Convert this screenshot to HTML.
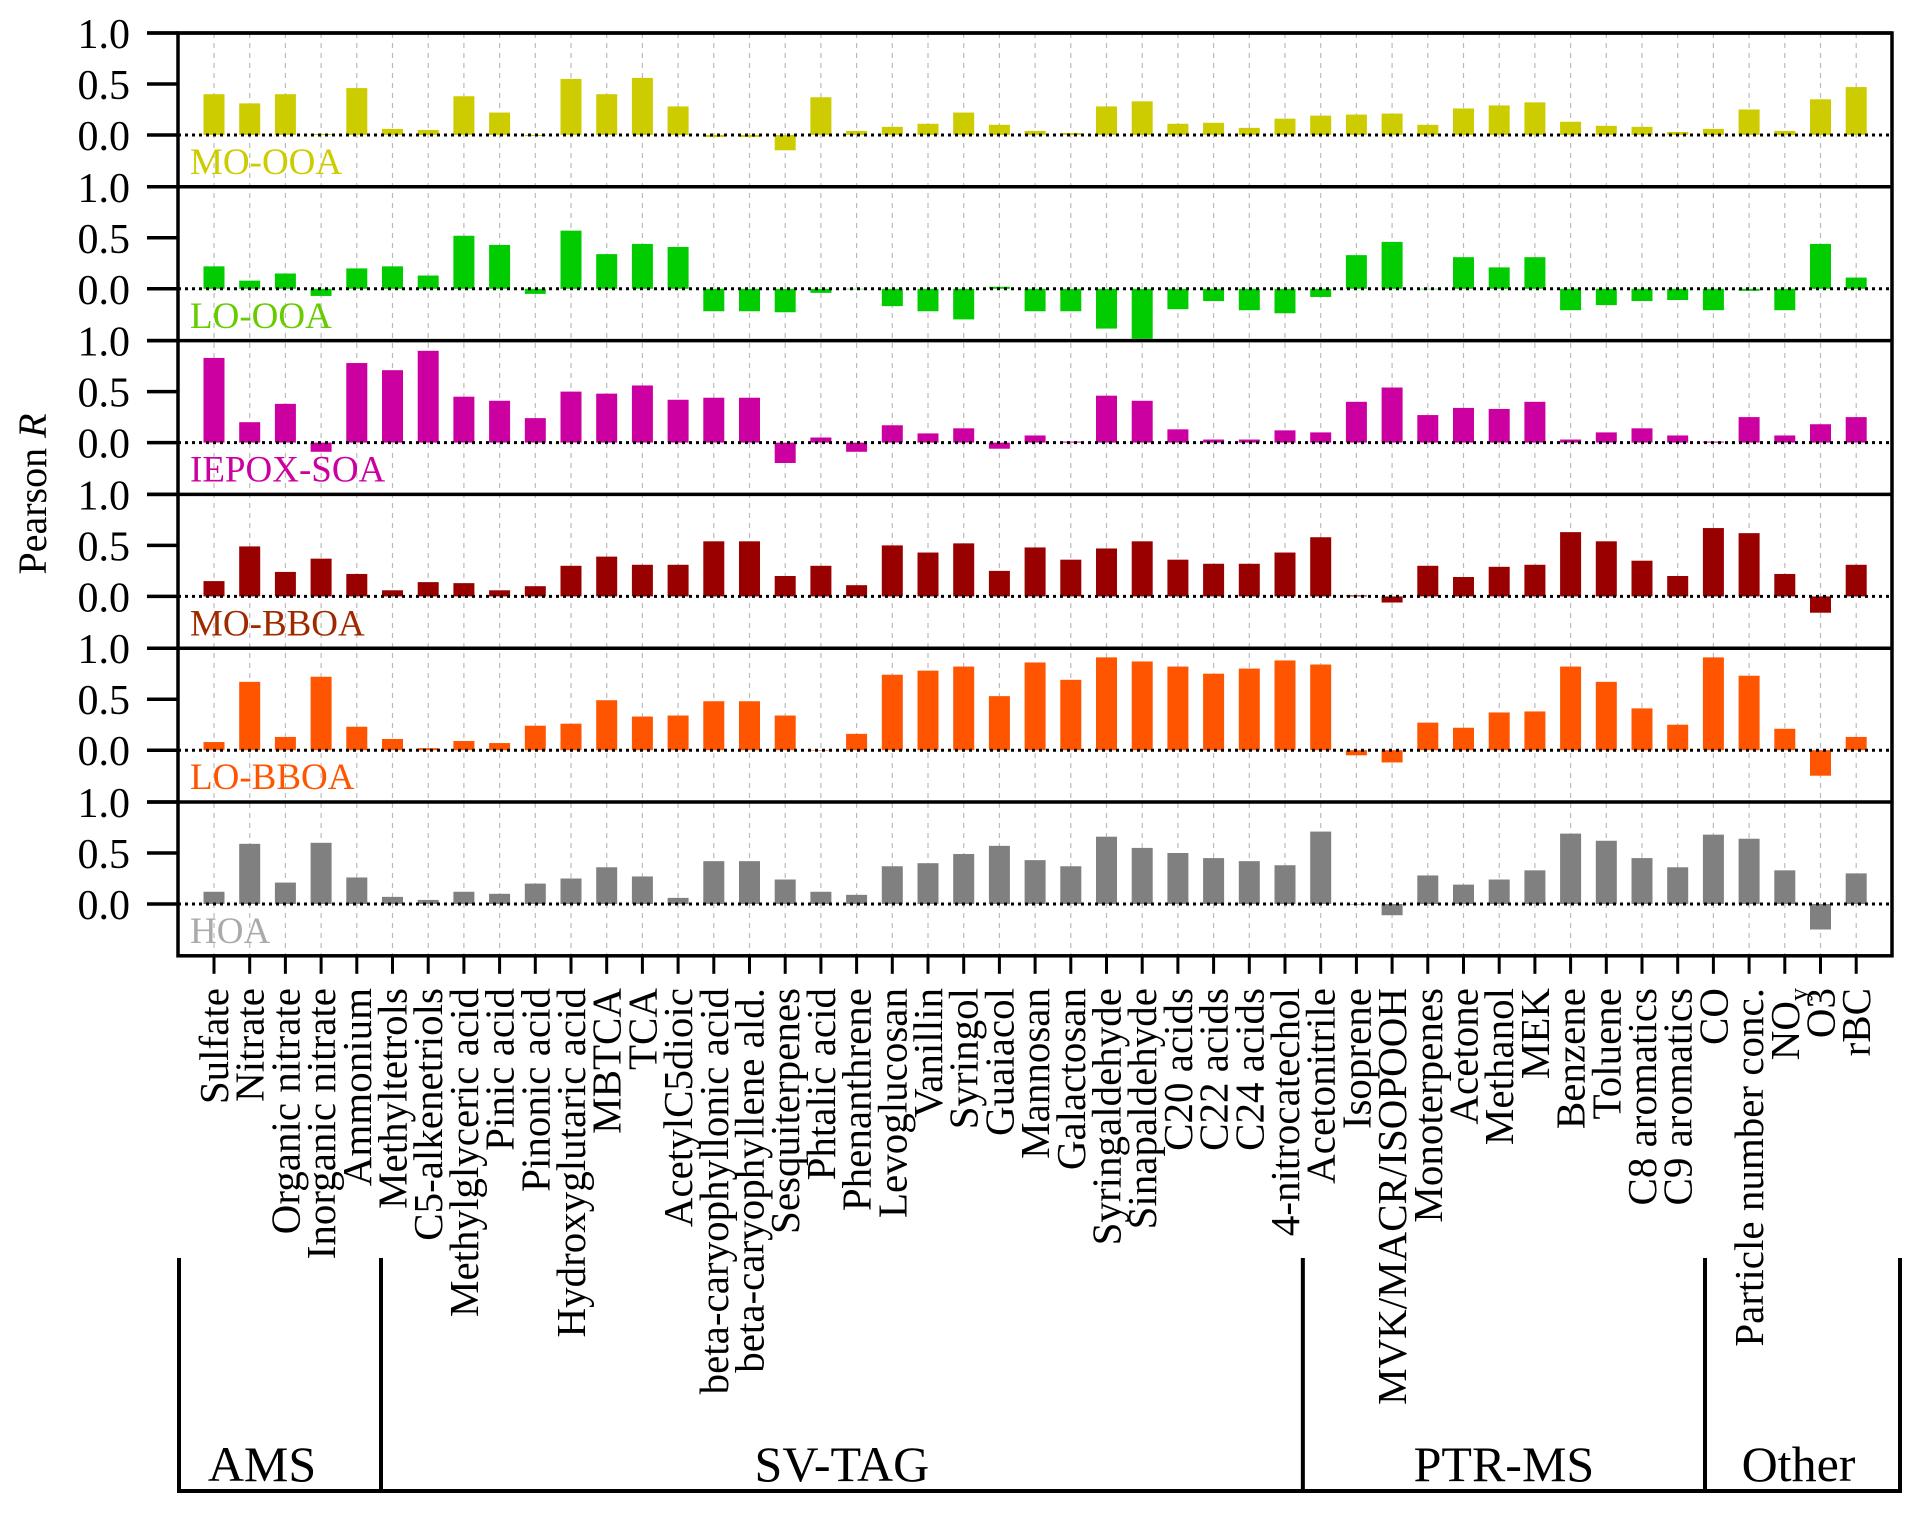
<!DOCTYPE html>
<html><head><meta charset="utf-8"><style>
html,body{margin:0;padding:0;background:#fff;}
svg{display:block;font-family:"Liberation Serif",serif;}
</style></head><body>
<svg id="chart" width="1917" height="1513" viewBox="0 0 1917 1513" xmlns="http://www.w3.org/2000/svg"></svg>
<script>
const categories = ["Sulfate","Nitrate","Organic nitrate","Inorganic nitrate","Ammonium","Methyltetrols","C5-alkenetriols","Methylglyceric acid","Pinic acid","Pinonic acid","Hydroxyglutaric acid","MBTCA","TCA","AcetylC5dioic","beta-caryophyllonic acid","beta-caryophyllene ald.","Sesquiterpenes","Phtalic acid","Phenanthrene","Levoglucosan","Vanillin","Syringol","Guaiacol","Mannosan","Galactosan","Syringaldehyde","Sinapaldehyde","C20 acids","C22 acids","C24 acids","4-nitrocatechol","Acetonitrile","Isoprene","MVK/MACR/ISOPOOH","Monoterpenes","Acetone","Methanol","MEK","Benzene","Toluene","C8 aromatics","C9 aromatics","CO","Particle number conc.","NOy","O3","rBC"];
const factorNames = ["MO-OOA","LO-OOA","IEPOX-SOA","MO-BBOA","LO-BBOA","HOA"];
const moOOA = [0.40,0.31,0.40,0.01,0.46,0.06,0.05,0.38,0.22,-0.01,0.55,0.40,0.56,0.28,-0.02,-0.02,-0.15,0.37,0.04,0.08,0.11,0.22,0.10,0.04,0.02,0.28,0.33,0.11,0.12,0.07,0.16,0.19,0.20,0.21,0.10,0.26,0.29,0.32,0.13,0.09,0.08,0.03,0.06,0.25,0.04,0.35,0.47];
const loOOA = [0.22,0.08,0.15,-0.07,0.20,0.22,0.13,0.52,0.43,-0.05,0.57,0.34,0.44,0.41,-0.22,-0.22,-0.23,-0.04,0.0,-0.17,-0.22,-0.30,0.02,-0.22,-0.22,-0.39,-0.49,-0.20,-0.12,-0.21,-0.24,-0.08,0.33,0.46,0.0,0.31,0.21,0.31,-0.21,-0.16,-0.12,-0.11,-0.21,-0.02,-0.21,0.44,0.11];
const iepoxSOA = [0.83,0.20,0.38,-0.09,0.78,0.71,0.90,0.45,0.41,0.24,0.50,0.48,0.56,0.42,0.44,0.44,-0.20,0.05,-0.09,0.17,0.09,0.14,-0.06,0.07,0.01,0.46,0.41,0.13,0.03,0.03,0.12,0.10,0.40,0.54,0.27,0.34,0.33,0.40,0.03,0.10,0.14,0.07,0.01,0.25,0.07,0.18,0.25];
const moBBOA = [0.15,0.49,0.24,0.37,0.22,0.06,0.14,0.13,0.06,0.10,0.30,0.39,0.31,0.31,0.54,0.54,0.20,0.30,0.11,0.50,0.43,0.52,0.25,0.48,0.36,0.47,0.54,0.36,0.32,0.32,0.43,0.58,0.01,-0.06,0.30,0.19,0.29,0.31,0.63,0.54,0.35,0.20,0.67,0.62,0.22,-0.16,0.31];
const loBBOA = [0.08,0.67,0.13,0.72,0.23,0.11,0.02,0.09,0.07,0.24,0.26,0.49,0.33,0.34,0.48,0.48,0.34,0.0,0.16,0.74,0.78,0.82,0.53,0.86,0.69,0.91,0.87,0.82,0.75,0.80,0.88,0.84,-0.05,-0.12,0.27,0.22,0.37,0.38,0.82,0.67,0.41,0.25,0.91,0.73,0.21,-0.25,0.13];
const hoa = [0.12,0.59,0.21,0.60,0.26,0.07,0.04,0.12,0.10,0.20,0.25,0.36,0.27,0.06,0.42,0.42,0.24,0.12,0.09,0.37,0.40,0.49,0.57,0.43,0.37,0.66,0.55,0.50,0.45,0.42,0.38,0.71,0.0,-0.11,0.28,0.19,0.24,0.33,0.69,0.62,0.45,0.36,0.68,0.64,0.33,-0.25,0.30];
const yTickValues = [1.0,0.5,0.0];
const yTickLabels = ["1.0","0.5","0.0"];
const groupNames = ["AMS","SV-TAG","PTR-MS","Other"];
const groupStarts = [0,5,31,42];
const groupEnds = [4,30,41,46];

const series = [moOOA, loOOA, iepoxSOA, moBBOA, loBBOA, hoa];
const barColors = ["#cccc00","#00cc00","#cc00a0","#990000","#ff5500","#808080"];
const labelColors = ["#cccc00","#66cc00","#cc00a0","#a02a00","#ff5500","#aaaaaa"];

const svg = document.getElementById('chart');
const NS = "http://www.w3.org/2000/svg";
const L = 178, R = 1892, TOP = 33, PH = 153.8, UNIT = 102, X0 = 214, DX = 35.7, BW = 21;
const xScale = i => X0 + i * DX;
const panelTop = p => TOP + p * PH;
const yScale = (p, v) => panelTop(p) + UNIT * (1 - v);
const BOTTOM = panelTop(6);

function mk(tag, attrs, parent) {
  const e = document.createElementNS(NS, tag);
  for (const k in attrs) e.setAttribute(k, attrs[k]);
  (parent || svg).appendChild(e);
  return e;
}

for (let i = 0; i < categories.length; i++) {
  const g = mk('line', {x1: xScale(i), x2: xScale(i), y1: TOP, y2: BOTTOM, stroke: '#bbb', 'stroke-width': 1.2, 'stroke-dasharray': '5,5'});
  
  
}

for (let p = 0; p < 6; p++) {
  const data = series[p];
  for (let i = 0; i < data.length; i++) {
    const v = data[i];
    const y0 = yScale(p, 0), y1 = yScale(p, v);
    const r = mk('rect', {x: xScale(i) - BW / 2, y: Math.min(y0, y1), width: BW, height: Math.max(Math.abs(y1 - y0), 0.5), fill: barColors[p]});
    
    
  }
  const z = mk('line', {x1: L, x2: R, y1: yScale(p, 0), y2: yScale(p, 0), stroke: '#000', 'stroke-width': 3, 'stroke-dasharray': '3,4'});
  
  
  const sep = mk('line', {x1: 147, x2: R, y1: panelTop(p), y2: panelTop(p), stroke: '#000', 'stroke-width': 3.5});
  
  
  for (let t = 0; t < yTickValues.length; t++) {
    const ty = yScale(p, yTickValues[t]);
    const tk = mk('line', {x1: 147, x2: L, y1: ty, y2: ty, stroke: '#000', 'stroke-width': 3.5});
    
    
    const tl = mk('text', {x: 130, y: ty + 15, 'text-anchor': 'end', 'font-size': 42, fill: '#000'});
    tl.textContent = yTickLabels[t];
    
    
  }
  const fl = mk('text', {x: 190, y: panelTop(p) + 141, 'font-size': 37, fill: labelColors[p]});
  fl.textContent = factorNames[p];
  
  
}

const fr = mk('rect', {x: L, y: TOP, width: R - L, height: BOTTOM - TOP, fill: 'none', stroke: '#000', 'stroke-width': 3.5});



for (let i = 0; i < categories.length; i++) {
  const x = xScale(i);
  const tk = mk('line', {x1: x, x2: x, y1: BOTTOM, y2: BOTTOM + 18, stroke: '#000', 'stroke-width': 3});
  
  
  const t = mk('text', {x: 0, y: 0, 'text-anchor': 'end', 'font-size': 41, fill: '#000', transform: 'translate(' + (x + 14) + ',' + 988 + ') rotate(-90)'});
  if (categories[i] === 'NOy') {
    t.appendChild(document.createTextNode('NO'));
    const s = mk('tspan', {'font-size': 26, dy: 8}, t);
    s.textContent = 'y';
  } else {
    t.textContent = categories[i];
  }
  
  
}

const GB = 1491, GT = 1258;
const bl = mk('line', {x1: 177, x2: 1902, y1: GB, y2: GB, stroke: '#000', 'stroke-width': 4});


const divs = [179, 381, (xScale(30) + xScale(31)) / 2, 1705, 1900];
const labelShift = [-18, 0, 0, -4];
for (const dx of divs) {
  const d = mk('line', {x1: dx, x2: dx, y1: GT, y2: GB + 2, stroke: '#000', 'stroke-width': 4});
  
  
}
for (let g = 0; g < groupNames.length; g++) {
  const gt = mk('text', {x: (divs[g] + divs[g + 1]) / 2 + labelShift[g], y: 1481, 'text-anchor': 'middle', 'font-size': 50, fill: '#000'});
  gt.textContent = groupNames[g];
  
  
}

const yt = mk('text', {x: 0, y: 0, 'text-anchor': 'middle', 'font-size': 40, fill: '#000', transform: 'translate(46,494) rotate(-90)'});
yt.appendChild(document.createTextNode('Pearson '));
const it = mk('tspan', {'font-style': 'italic'}, yt);
it.textContent = 'R';


</script>
</body></html>
